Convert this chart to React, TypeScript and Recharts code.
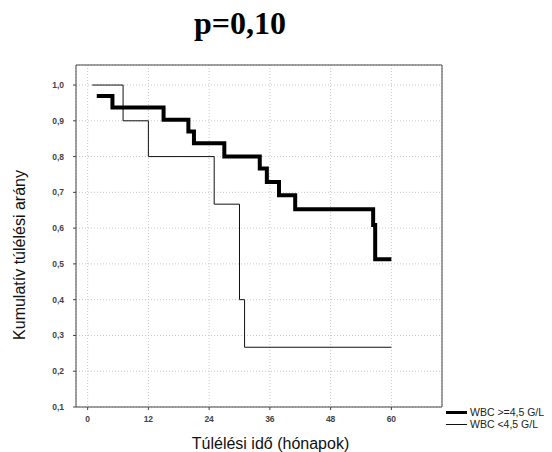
import React from 'react';
import { LineChart, Line, XAxis, YAxis, CartesianGrid } from 'recharts';

const title = 'p=0,10';
const xLabel = 'Túlélési idő (hónapok)';
const yLabel = 'Kumulatív túlélési arány';
const seriesNames = ['WBC >=4,5 G/L', 'WBC <4,5 G/L'];

const highMonths = [1.8, 4.9, 15, 19.9, 21, 27, 34, 35.4, 37.8, 41, 56.4, 56.8, 60];
const highSurvival = [0.969, 0.937, 0.903, 0.87, 0.837, 0.8, 0.767, 0.729, 0.692, 0.653, 0.609, 0.513, 0.513];
const lowMonths = [0.9, 7, 12, 25, 30, 31, 60];
const lowSurvival = [1.0, 0.9, 0.8, 0.667, 0.4, 0.267, 0.267];

const xTicks = [0, 12, 24, 36, 48, 60];
const xTopTicks = [10, 20, 30, 40, 50, 60];
const yTicks = [0.1, 0.2, 0.3, 0.4, 0.5, 0.6, 0.7, 0.8, 0.9, 1.0];

const highData = highMonths.map((t, i) => ({ t, s: highSurvival[i] }));
const lowData = lowMonths.map((t, i) => ({ t, s: lowSurvival[i] }));

const sans = '"Liberation Sans", Arial, sans-serif';
const axisColor = '#444';
const tickStyle = { fontSize: 8.5, fontWeight: 700, fill: '#444', fontFamily: sans };

export default function App() {
  return (
    <div style={{ position: 'fixed', left: 0, top: 0, width: 552, height: 452, background: '#fff' }}>
      <LineChart
        width={552}
        height={452}
        margin={{ top: 60, right: 109, bottom: 15, left: 0 }}
      >
        <CartesianGrid stroke="#c8c8c8" strokeDasharray="1 2" />
        <XAxis
          dataKey="t"
          type="number"
          domain={[-2.3, 70]}
          allowDataOverflow
          ticks={xTicks}
          height={30}
          tick={tickStyle}
          tickSize={3}
          tickMargin={6}
          stroke={axisColor}
        />
        <XAxis
          xAxisId="top"
          orientation="top"
          dataKey="t"
          type="number"
          domain={[-2.3, 70]}
          allowDataOverflow
          ticks={xTopTicks}
          height={5}
          tick={false}
          tickSize={-5}
          stroke={axisColor}
        />
        <YAxis
          type="number"
          domain={[0.1, 1.056]}
          allowDataOverflow
          ticks={yTicks}
          width={76}
          tick={tickStyle}
          tickSize={3}
          tickMargin={9}
          tickFormatter={(v: number) => v.toFixed(1).replace('.', ',')}
          stroke={axisColor}
        />
        <YAxis
          yAxisId="right"
          orientation="right"
          type="number"
          domain={[0.1, 1.056]}
          width={1}
          tick={false}
          tickLine={false}
          stroke={axisColor}
        />
        <Line
          data={lowData}
          dataKey="s"
          type="stepAfter"
          stroke="#111"
          strokeWidth={1}
          dot={false}
          isAnimationActive={false}
          name={seriesNames[1]}
        />
        <Line
          data={highData}
          dataKey="s"
          type="stepAfter"
          stroke="#000"
          strokeWidth={4}
          dot={false}
          isAnimationActive={false}
          name={seriesNames[0]}
        />
      </LineChart>
      <svg
        width={552}
        height={452}
        style={{ position: 'absolute', left: 0, top: 0, pointerEvents: 'none' }}
      >
        <text
          x={240}
          y={33.5}
          textAnchor="middle"
          fontFamily='"Liberation Serif", "Times New Roman", serif'
          fontWeight={700}
          fontSize={32}
          fill="#000"
        >
          {title}
        </text>
        <text x={270.5} y={448.5} textAnchor="middle" fontFamily={sans} fontSize={16} fill="#111">
          {xLabel}
        </text>
        <text
          transform="translate(24.5,255) rotate(-90)"
          textAnchor="middle"
          fontFamily={sans}
          fontSize={16}
          fill="#111"
        >
          {yLabel}
        </text>
        <line x1={446} x2={467} y1={412.5} y2={412.5} stroke="#000" strokeWidth={3} />
        <text x={470} y={416} fontFamily={sans} fontSize={10.5} fill="#222">
          {seriesNames[0]}
        </text>
        <line x1={446} x2={467} y1={424.5} y2={424.5} stroke="#111" strokeWidth={1} />
        <text x={470} y={428} fontFamily={sans} fontSize={10.5} fill="#222">
          {seriesNames[1]}
        </text>
      </svg>
    </div>
  );
}
